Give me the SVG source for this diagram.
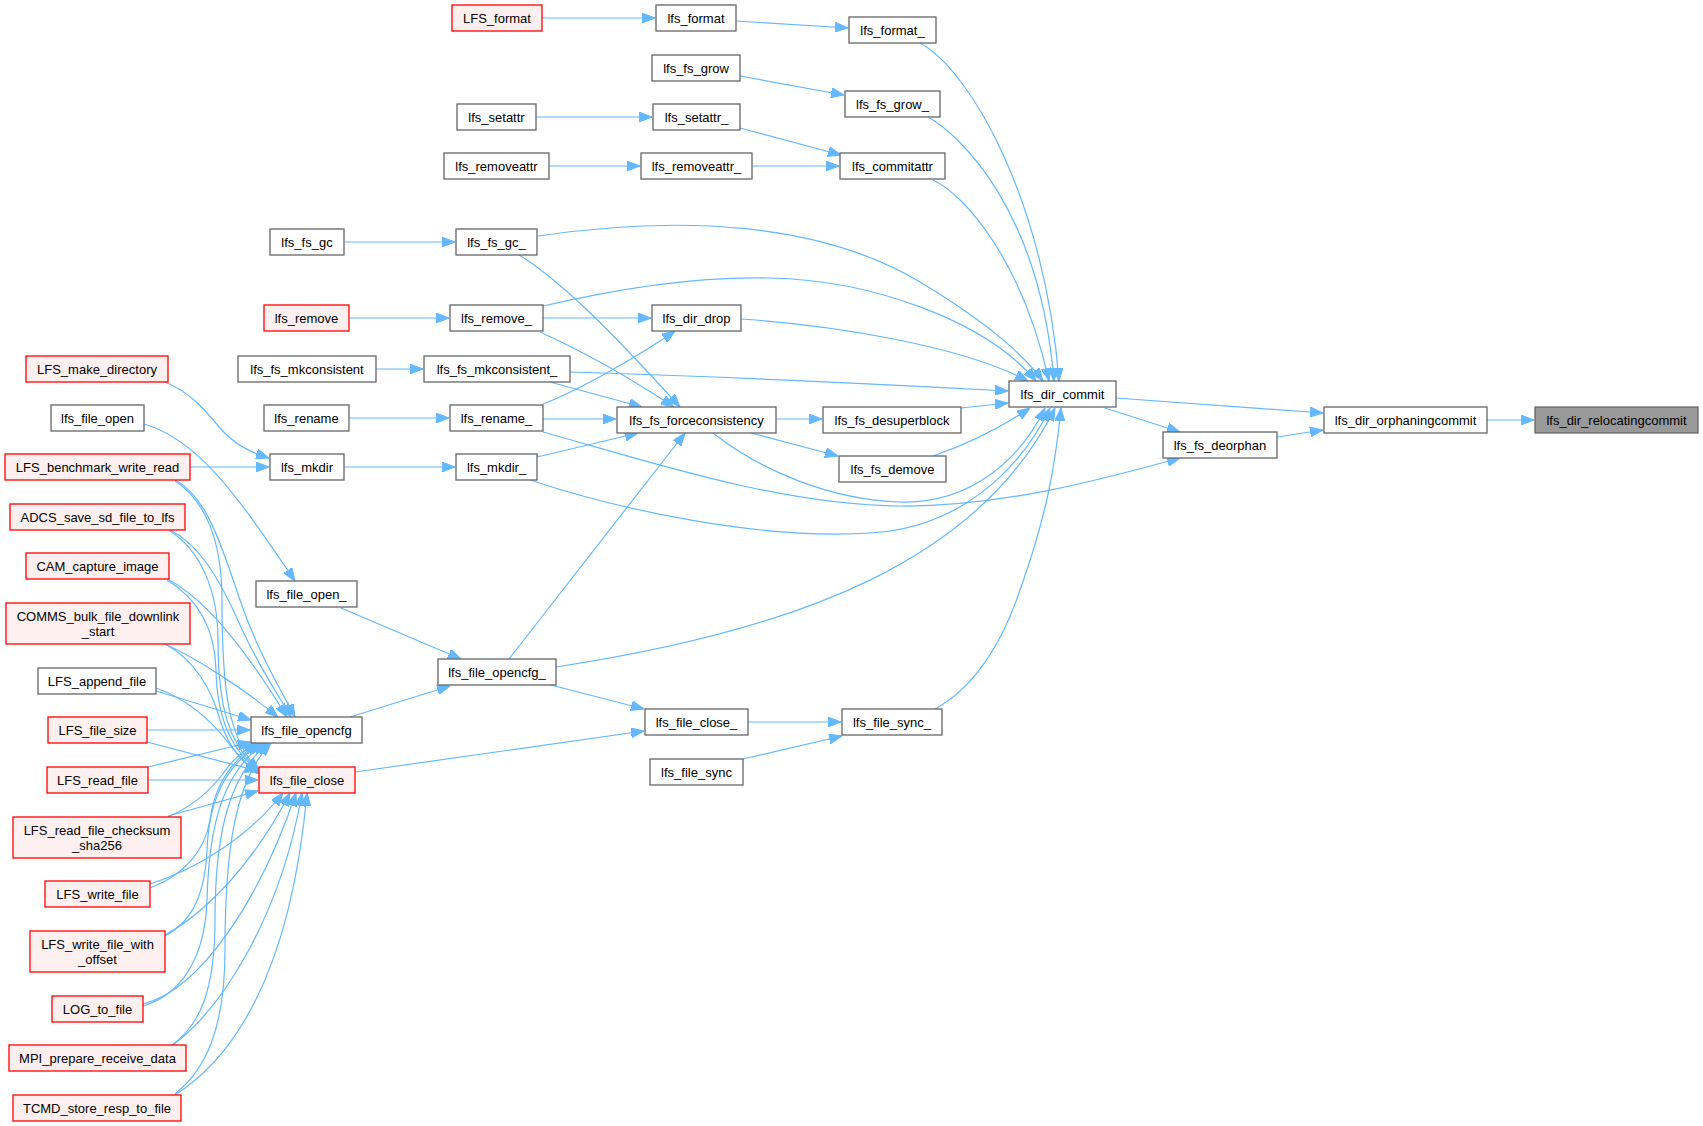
<svg xmlns="http://www.w3.org/2000/svg" width="1703" height="1126" viewBox="0 0 1703 1126">
<defs>
<marker id="a" viewBox="0 0 13 10" refX="13" refY="5" markerWidth="13" markerHeight="10" markerUnits="userSpaceOnUse" orient="auto">
<path d="M0,0 L13,5 L0,10 z" fill="#63b8ff" stroke="#63b8ff" stroke-width="1"/>
</marker>
<style>
.n rect{fill:#ffffff;stroke:#666666;stroke-width:1.3}
.r rect{fill:#fff0f0;stroke:#ff0000;stroke-width:1.3}
.g rect{fill:#999999;stroke:#666666;stroke-width:1.3}
text{font-family:"Liberation Sans",Arial,Helvetica,sans-serif;font-size:13px;text-anchor:middle;fill:#000000}
#edges path{fill:none;stroke:#63b8ff;stroke-width:1.2;marker-end:url(#a)}
</style>
</defs>
<rect x="0" y="0" width="1703" height="1126" fill="#ffffff"/>
<g id="edges">
<path d="M542,18 L655,18"/>
<path d="M736,21 L848,28"/>
<path d="M920,43 C970,70 1045,200 1059,381"/>
<path d="M740,76 L844,95"/>
<path d="M928,117 C960,135 1040,210 1054,381"/>
<path d="M536,117 L652,117"/>
<path d="M740,128 L841,155"/>
<path d="M549,166 L640,166"/>
<path d="M752,166 L839,166"/>
<path d="M933,180 C965,195 1022,260 1049,381"/>
<path d="M344,242 L455,242"/>
<path d="M538,236 C680,215 820,222 920,282 C980,318 1020,350 1043,381"/>
<path d="M519,255 C560,280 610,330 680,407"/>
<path d="M349,318 L449,318"/>
<path d="M543,306 C620,288 700,276 770,278 C870,280 985,320 1036,381"/>
<path d="M543,318 L651,318"/>
<path d="M540,332 C580,350 630,378 674,407"/>
<path d="M741,319 C830,325 960,345 1028,381"/>
<path d="M376,369 L423,369"/>
<path d="M570,372 C700,376 880,384 1008,391"/>
<path d="M550,382 L642,407"/>
<path d="M349,418 L449,418"/>
<path d="M543,404 C580,390 640,355 675,331"/>
<path d="M543,419 L616,419"/>
<path d="M543,432 C650,462 780,505 900,506 C1000,507 1100,480 1180,458"/>
<path d="M530,480 C620,510 760,540 870,533 C960,528 1020,470 1050,408"/>
<path d="M537,457 L638,433"/>
<path d="M776,419 L822,419"/>
<path d="M751,433 L838,456"/>
<path d="M713,433 C760,470 830,500 900,502 C970,504 1020,460 1045,408"/>
<path d="M961,408 L1008,403"/>
<path d="M933,456 C965,445 1000,428 1030,408"/>
<path d="M1116,398 L1323,413"/>
<path d="M1105,408 L1180,432"/>
<path d="M1277,437 L1323,430"/>
<path d="M1487,420 L1534,420"/>
<path d="M509,659 L685,433"/>
<path d="M556,667 C800,630 980,560 1055,408"/>
<path d="M551,685 L644,709"/>
<path d="M355,772 L644,731"/>
<path d="M748,722 L841,722"/>
<path d="M743,759 L842,736"/>
<path d="M935,709 C970,690 1000,650 1020,590 C1045,520 1055,470 1061,408"/>
<path d="M144,424 C200,440 240,500 295,581"/>
<path d="M341,608 L461,659"/>
<path d="M350,717 L450,686"/>
<path d="M165,382 C190,392 205,410 220,428 C235,445 250,452 269,458"/>
<path d="M190,467 L269,467"/>
<path d="M344,467 L455,467"/>
<path d="M175,480 C205,495 220,540 240,600 C255,645 275,680 295,717"/>
<path d="M170,530 C200,545 220,580 240,625 C258,665 275,690 291,717"/>
<path d="M167,579 C200,595 240,640 287,717"/>
<path d="M165,644 C200,660 245,690 278,717"/>
<path d="M156,691 L251,720"/>
<path d="M147,730 L250,730"/>
<path d="M148,767 L251,742"/>
<path d="M168,817 C195,805 210,790 222,775 C232,760 242,752 256,743"/>
<path d="M150,888 C185,875 205,850 210,820 C214,790 228,762 259,743"/>
<path d="M165,936 C195,920 205,890 207,850 C209,800 225,765 262,743"/>
<path d="M143,1006 C180,995 205,960 207,900 C209,820 225,770 265,743"/>
<path d="M172,1045 C200,1025 215,990 215,920 C215,830 230,775 268,743"/>
<path d="M175,1094 C205,1070 225,1030 225,950 C225,850 235,780 271,743"/>
<path d="M175,481 C205,500 222,540 222,600 C222,690 228,740 259,770"/>
<path d="M170,531 C200,550 218,590 218,640 C218,710 230,745 259,771"/>
<path d="M167,580 C200,600 215,630 216,670 C217,720 232,750 259,772"/>
<path d="M165,644 C195,660 212,690 220,720 C228,745 240,762 259,773"/>
<path d="M156,688 C190,700 215,725 230,745 C240,758 250,767 259,774"/>
<path d="M147,742 L258,771"/>
<path d="M148,780 L258,780"/>
<path d="M168,816 L258,791"/>
<path d="M150,884 C200,868 250,835 283,793"/>
<path d="M165,935 C210,910 255,860 290,793"/>
<path d="M143,1004 C200,990 260,900 296,793"/>
<path d="M173,1045 C220,1010 280,920 302,793"/>
<path d="M175,1095 C230,1060 290,980 307,793"/>
</g>
<g id="n_LFS_format" class="r"><rect x="452" y="5" width="90" height="26"/><text x="497" y="22.5">LFS_format</text></g>
<g id="n_lfs_format" class="n"><rect x="656" y="5" width="80" height="26"/><text x="696" y="22.5">lfs_format</text></g>
<g id="n_lfs_format_" class="n"><rect x="849" y="17" width="87" height="26"/><text x="892.5" y="34.5">lfs_format_</text></g>
<g id="n_lfs_fs_grow" class="n"><rect x="652" y="55" width="88" height="26"/><text x="696" y="72.5">lfs_fs_grow</text></g>
<g id="n_lfs_fs_grow_" class="n"><rect x="845" y="91" width="95" height="26"/><text x="892.5" y="108.5">lfs_fs_grow_</text></g>
<g id="n_lfs_setattr" class="n"><rect x="457" y="104" width="79" height="26"/><text x="496.5" y="121.5">lfs_setattr</text></g>
<g id="n_lfs_setattr_" class="n"><rect x="653" y="104" width="87" height="26"/><text x="696.5" y="121.5">lfs_setattr_</text></g>
<g id="n_lfs_removeattr" class="n"><rect x="444" y="153" width="105" height="26"/><text x="496.5" y="170.5">lfs_removeattr</text></g>
<g id="n_lfs_removeattr_" class="n"><rect x="641" y="153" width="111" height="26"/><text x="696.5" y="170.5">lfs_removeattr_</text></g>
<g id="n_lfs_commitattr" class="n"><rect x="840" y="153" width="105" height="26"/><text x="892.5" y="170.5">lfs_commitattr</text></g>
<g id="n_lfs_fs_gc" class="n"><rect x="270" y="229" width="74" height="26"/><text x="307" y="246.5">lfs_fs_gc</text></g>
<g id="n_lfs_fs_gc_" class="n"><rect x="456" y="229" width="81" height="26"/><text x="496.5" y="246.5">lfs_fs_gc_</text></g>
<g id="n_lfs_remove" class="r"><rect x="264" y="305" width="85" height="26"/><text x="306.5" y="322.5">lfs_remove</text></g>
<g id="n_lfs_remove_" class="n"><rect x="450" y="305" width="93" height="26"/><text x="496.5" y="322.5">lfs_remove_</text></g>
<g id="n_lfs_dir_drop" class="n"><rect x="652" y="305" width="89" height="26"/><text x="696.5" y="322.5">lfs_dir_drop</text></g>
<g id="n_LFS_make_directory" class="r"><rect x="26" y="356" width="142" height="26"/><text x="97" y="373.5">LFS_make_directory</text></g>
<g id="n_lfs_fs_mkconsistent" class="n"><rect x="238" y="356" width="138" height="26"/><text x="307" y="373.5">lfs_fs_mkconsistent</text></g>
<g id="n_lfs_fs_mkconsistent_" class="n"><rect x="424" y="356" width="146" height="26"/><text x="497" y="373.5">lfs_fs_mkconsistent_</text></g>
<g id="n_lfs_dir_commit" class="n"><rect x="1009" y="381" width="107" height="26"/><text x="1062.5" y="398.5">lfs_dir_commit</text></g>
<g id="n_lfs_file_open" class="n"><rect x="51" y="405" width="93" height="26"/><text x="97.5" y="422.5">lfs_file_open</text></g>
<g id="n_lfs_rename" class="n"><rect x="264" y="405" width="85" height="26"/><text x="306.5" y="422.5">lfs_rename</text></g>
<g id="n_lfs_rename_" class="n"><rect x="450" y="405" width="93" height="26"/><text x="496.5" y="422.5">lfs_rename_</text></g>
<g id="n_lfs_fs_forceconsistency" class="n"><rect x="617" y="407" width="159" height="26"/><text x="696.5" y="424.5">lfs_fs_forceconsistency</text></g>
<g id="n_lfs_fs_desuperblock" class="n"><rect x="823" y="407" width="138" height="26"/><text x="892" y="424.5">lfs_fs_desuperblock</text></g>
<g id="n_lfs_dir_orphaningcommit" class="n"><rect x="1324" y="407" width="163" height="26"/><text x="1405.5" y="424.5">lfs_dir_orphaningcommit</text></g>
<g id="n_lfs_dir_relocatingcommit" class="g"><rect x="1535" y="407" width="163" height="26"/><text x="1616.5" y="424.5">lfs_dir_relocatingcommit</text></g>
<g id="n_lfs_fs_deorphan" class="n"><rect x="1163" y="432" width="114" height="26"/><text x="1220" y="449.5">lfs_fs_deorphan</text></g>
<g id="n_LFS_benchmark_write_read" class="r"><rect x="5" y="454" width="185" height="26"/><text x="97.5" y="471.5">LFS_benchmark_write_read</text></g>
<g id="n_lfs_mkdir" class="n"><rect x="270" y="454" width="74" height="26"/><text x="307" y="471.5">lfs_mkdir</text></g>
<g id="n_lfs_mkdir_" class="n"><rect x="456" y="454" width="81" height="26"/><text x="496.5" y="471.5">lfs_mkdir_</text></g>
<g id="n_lfs_fs_demove" class="n"><rect x="839" y="456" width="107" height="26"/><text x="892.5" y="473.5">lfs_fs_demove</text></g>
<g id="n_ADCS_save_sd_file_to_lfs" class="r"><rect x="10" y="504" width="175" height="26"/><text x="97.5" y="521.5">ADCS_save_sd_file_to_lfs</text></g>
<g id="n_CAM_capture_image" class="r"><rect x="26" y="553" width="143" height="26"/><text x="97.5" y="570.5">CAM_capture_image</text></g>
<g id="n_lfs_file_open_" class="n"><rect x="256" y="581" width="101" height="26"/><text x="306.5" y="598.5">lfs_file_open_</text></g>
<g id="n_COMMS_bulk_file_downlink_start" class="r"><rect x="6" y="603" width="184" height="41"/><text x="98" y="621">COMMS_bulk_file_downlink</text><text x="98" y="636">_start</text></g>
<g id="n_lfs_file_opencfg_" class="n"><rect x="438" y="659" width="118" height="26"/><text x="497" y="676.5">lfs_file_opencfg_</text></g>
<g id="n_LFS_append_file" class="n"><rect x="38" y="668" width="118" height="26"/><text x="97" y="685.5">LFS_append_file</text></g>
<g id="n_lfs_file_close_" class="n"><rect x="645" y="709" width="103" height="26"/><text x="696.5" y="726.5">lfs_file_close_</text></g>
<g id="n_lfs_file_sync_" class="n"><rect x="842" y="709" width="100" height="26"/><text x="892" y="726.5">lfs_file_sync_</text></g>
<g id="n_LFS_file_size" class="r"><rect x="48" y="717" width="99" height="26"/><text x="97.5" y="734.5">LFS_file_size</text></g>
<g id="n_lfs_file_opencfg" class="n"><rect x="251" y="717" width="111" height="26"/><text x="306.5" y="734.5">lfs_file_opencfg</text></g>
<g id="n_lfs_file_sync" class="n"><rect x="650" y="759" width="93" height="26"/><text x="696.5" y="776.5">lfs_file_sync</text></g>
<g id="n_LFS_read_file" class="r"><rect x="47" y="767" width="101" height="26"/><text x="97.5" y="784.5">LFS_read_file</text></g>
<g id="n_lfs_file_close" class="r"><rect x="259" y="767" width="96" height="26"/><text x="307" y="784.5">lfs_file_close</text></g>
<g id="n_LFS_read_file_checksum_sha256" class="r"><rect x="13" y="817" width="168" height="41"/><text x="97" y="835">LFS_read_file_checksum</text><text x="97" y="850">_sha256</text></g>
<g id="n_LFS_write_file" class="r"><rect x="45" y="881" width="105" height="26"/><text x="97.5" y="898.5">LFS_write_file</text></g>
<g id="n_LFS_write_file_with_offset" class="r"><rect x="30" y="931" width="135" height="41"/><text x="97.5" y="949">LFS_write_file_with</text><text x="97.5" y="964">_offset</text></g>
<g id="n_LOG_to_file" class="r"><rect x="52" y="996" width="91" height="26"/><text x="97.5" y="1013.5">LOG_to_file</text></g>
<g id="n_MPI_prepare_receive_data" class="r"><rect x="9" y="1045" width="177" height="26"/><text x="97.5" y="1062.5">MPI_prepare_receive_data</text></g>
<g id="n_TCMD_store_resp_to_file" class="r"><rect x="13" y="1095" width="168" height="26"/><text x="97" y="1112.5">TCMD_store_resp_to_file</text></g>
</svg>
